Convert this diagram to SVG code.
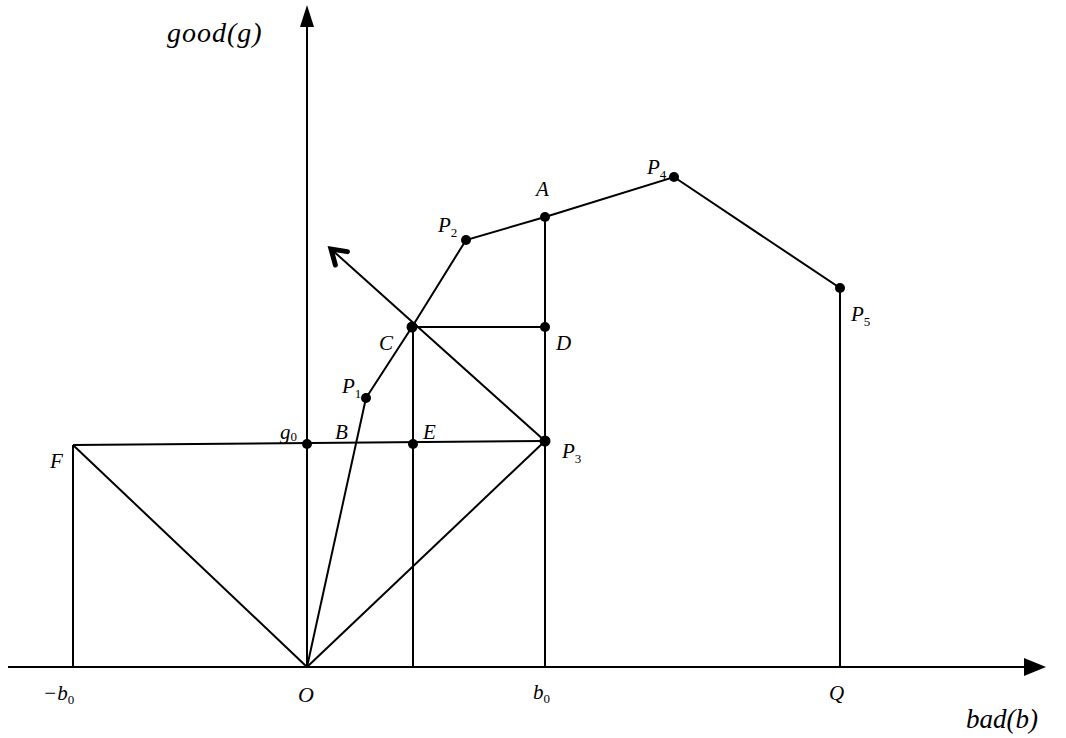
<svg xmlns="http://www.w3.org/2000/svg" width="1066" height="738" viewBox="0 0 1066 738">
<style>
.ln{stroke:#000;stroke-width:2;fill:none}
.dot{fill:#000}
text{font-family:"Liberation Serif","Times New Roman",serif;font-style:italic;font-size:21px;fill:#000}
.sub{font-style:normal;font-size:13px}
</style>
<defs>
<marker id="ah2" markerWidth="26" markerHeight="26" refX="21" refY="13" orient="auto" markerUnits="userSpaceOnUse"><path d="M7,4 L21,13 L7,22" fill="none" stroke="#000" stroke-width="5" stroke-linejoin="miter" stroke-linecap="round"/></marker>
</defs>
<rect width="1066" height="738" fill="#fff"/>
<g id="connectors">
<line class="ln" x1="8" y1="667" x2="1030" y2="667"/>
<path d="M1024,658 L1046,667 L1024,676 Z" fill="#000"/>
<line class="ln" x1="307" y1="667" x2="307" y2="20"/>
<path d="M300,27 L307,5 L314,27 Z" fill="#000"/>
<line class="ln" x1="73" y1="445" x2="73" y2="667"/>
<line class="ln" x1="73" y1="445" x2="545" y2="441"/>
<line class="ln" x1="307" y1="667" x2="73" y2="445"/>
<line class="ln" x1="307" y1="667" x2="545" y2="441"/>
<line class="ln" x1="307" y1="667" x2="366" y2="398"/>
<polyline class="ln" points="366,398 412,327 466,240 545,217 674,177 840,288 840,667"/>
<line class="ln" x1="413" y1="327" x2="413" y2="667"/>
<line class="ln" x1="412" y1="327" x2="545" y2="327"/>
<line class="ln" x1="545" y1="217" x2="545" y2="667"/>
<line class="ln" stroke-width="2.5" x1="545" y1="441" x2="331" y2="249" marker-end="url(#ah2)"/>
</g>
<g id="points">
<circle class="dot" cx="366" cy="398" r="5"/>
<circle class="dot" cx="412" cy="327" r="5.5"/>
<circle class="dot" cx="466" cy="240" r="5"/>
<circle class="dot" cx="545" cy="217" r="5"/>
<circle class="dot" cx="674" cy="177" r="5"/>
<circle class="dot" cx="840" cy="288" r="5"/>
<circle class="dot" cx="545" cy="327" r="5"/>
<circle class="dot" cx="545" cy="441" r="5.5"/>
<circle class="dot" cx="413" cy="444" r="5"/>
<circle class="dot" cx="307" cy="444" r="5"/>
</g>
<g id="labels">
<text x="167" y="42" style="font-size:28px;letter-spacing:1px">good(g)</text>
<text x="536" y="196">A</text>
<text x="438" y="232">P<tspan class="sub" dy="5">2</tspan></text>
<text x="647" y="174">P<tspan class="sub" dy="5">4</tspan></text>
<text x="851" y="321">P<tspan class="sub" dy="5">5</tspan></text>
<text x="379" y="350">C</text>
<text x="556" y="350">D</text>
<text x="342" y="393">P<tspan class="sub" dy="5">1</tspan></text>
<text x="280" y="439">g<tspan class="sub" dy="2">0</tspan></text>
<text x="335" y="439">B</text>
<text x="423" y="439">E</text>
<text x="562" y="458">P<tspan class="sub" dy="5">3</tspan></text>
<text x="50" y="468">F</text>
<text x="43" y="700">−b<tspan class="sub" dy="4">0</tspan></text>
<text x="298" y="702" style="font-size:22px">O</text>
<text x="533" y="699">b<tspan class="sub" dy="4">0</tspan></text>
<text x="829" y="700">Q</text>
<text x="966" y="728" style="font-size:27px">bad(b)</text>
</g>
</svg>
